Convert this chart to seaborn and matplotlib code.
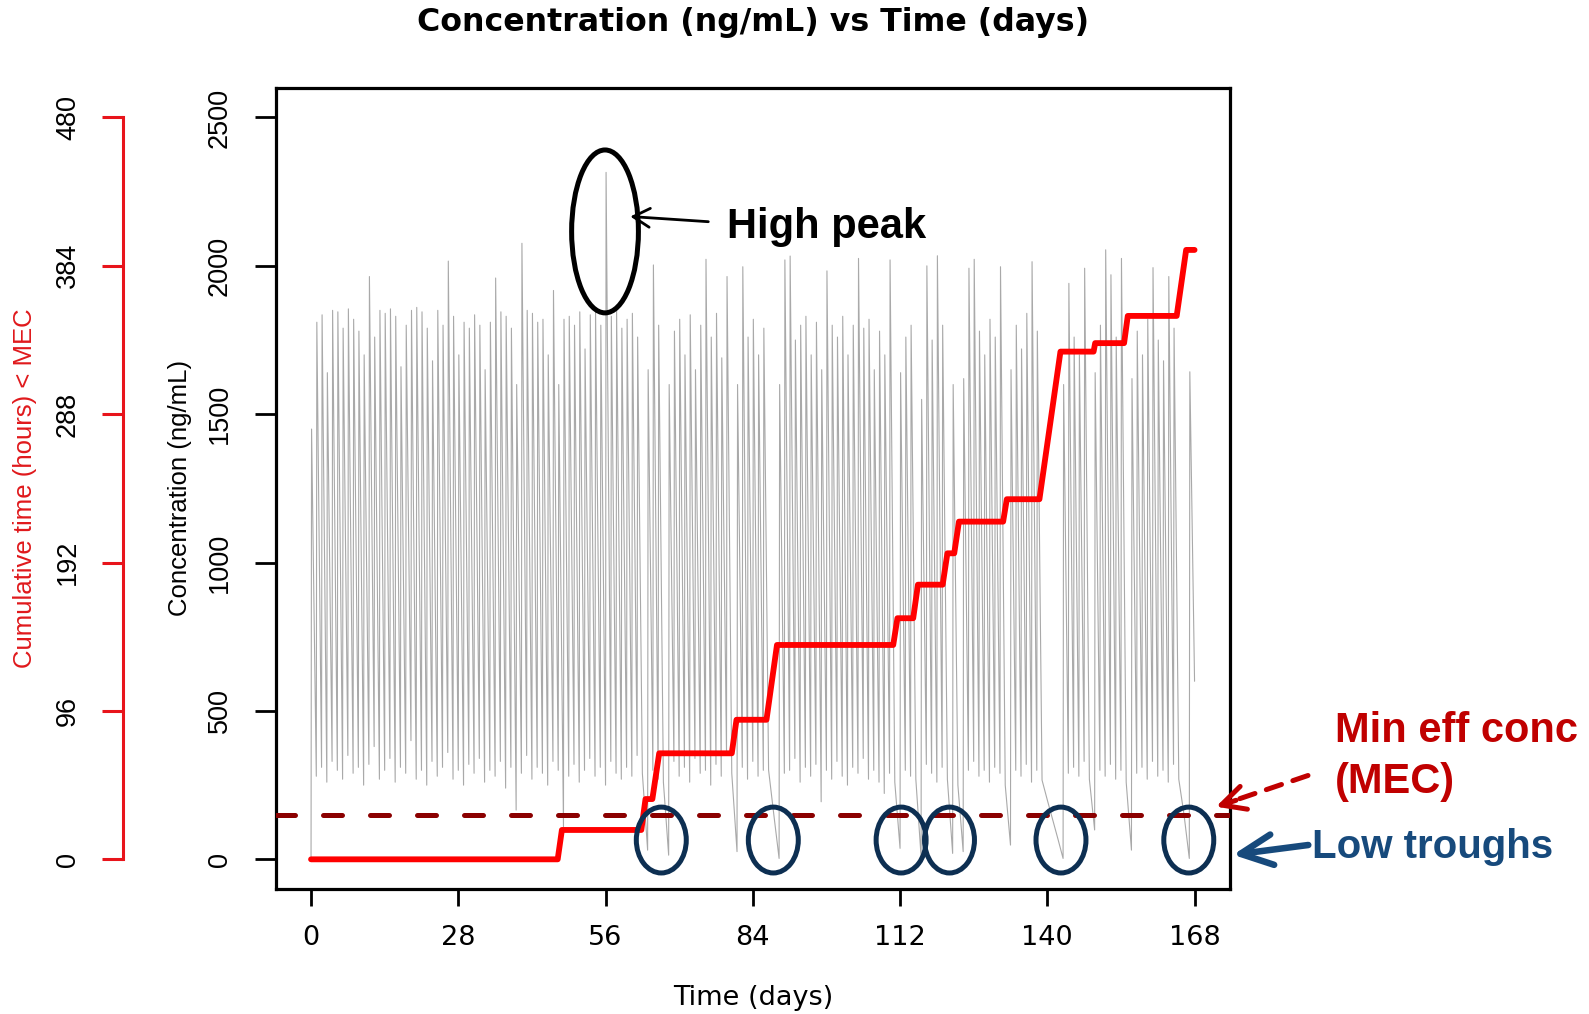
import numpy as np
import pandas as pd
import matplotlib
matplotlib.use("Agg")
import matplotlib.pyplot as plt
import seaborn as sns
from matplotlib.patches import Ellipse

# ---------------- data ----------------
days = list(range(168))  # once-daily dosing grid, days 0..167
# peak concentration after each dose (None = missed dose)
peak_conc = [
    1450, 1810, 1835, 1640, 1850, 1845, 1790, 1855, 1820, 1780,
    1700, 1964, 1760, 1850, 1840, 1855, 1830, 1660, 1800, 1850,
    1860, 1845, 1790, 1680, 1850, 1800, 2016, 1830, 1700, 1810,
    1790, 1835, 1800, 1650, 1810, 1959, 1845, 1830, 1790, 1600,
    2076, 1850, 1840, 1810, 1820, 1700, 1917, 1600, 1820, 1830,
    1800, 1845, 1720, 1835, 1850, 1800, 2315, 1830, 1850, 1790,
    1820, 1840, 1760, None, 1650, 2003, 1800, None, 1600, 1780,
    1820, 1700, 1835, 1650, 1800, 2022, 1760, 1840, 1690, 1964,
    None, 1600, 1997, 1760, 1820, 1700, 1790, None, None, 1600,
    2020, 2033, 1750, 1800, 1830, 1700, 1810, 1650, 1983, 1800,
    1760, 1830, 1700, 1800, 2025, 1790, 1820, 1650, 1780, 1700,
    2020, None, 1640, 1760, 1800, None, 1550, 2000, 1750, 2034,
    1800, None, 1600, None, 1620, 1992, 2022, 1780, 1700, 1820,
    1760, 1997, None, 1650, 1800, 1720, 1840, 2014, 1780, None,
    None, None, None, 1600, 1941, 1760, 1700, 1992, None, 1640,
    1800, 2054, 1970, 1760, 2025, None, 1620, 1780, 1700, 1820,
    1994, 1750, 1680, 1964, 1790, None, None, 1643,
]
# concentration at the end of each day (pre-dose trough of the next day)
trough_conc = [
    280, 310, 260, 330, 300, 270, 350, 290, 310, 250,
    320, 380, 270, 300, 340, 260, 310, 290, 400, 270,
    300, 250, 330, 280, 310, 360, 270, 300, 250, 320,
    290, 340, 260, 300, 280, 330, 240, 310, 166, 290,
    350, 270, 310, 290, 250, 330, 300, 110, 280, 320,
    260, 300, 340, 280, 310, 250, 330, 290, 270, 310,
    280, 350, 290, 31, 300, 270, 260, 14, 330, 280,
    310, 260, 340, 290, 300, 250, 320, 280, 360, 290,
    26, 310, 270, 330, 280, 300, 301, 150, 3, 290,
    300, 340, 260, 310, 280, 320, 194, 300, 270, 330,
    280, 250, 310, 290, 340, 270, 300, 260, 222, 290,
    260, 37, 300, 280, 270, 9, 320, 290, 260, 310,
    270, 20, 250, 26, 300, 330, 280, 300, 260, 310,
    290, 250, 48, 300, 280, 320, 260, 300, 267, 200,
    135, 70, 3, 290, 310, 280, 330, 270, 99, 300,
    280, 320, 270, 300, 260, 31, 290, 310, 270, 330,
    280, 300, 260, 320, 270, 150, 3, 600,
]
mec = 150  # minimum effective concentration (ng/mL)

# cumulative time (hours) below MEC
red_days = [0, 46.9, 47.7, 62.8, 63.6, 64.9, 66.2, 80.0, 80.9, 86.6, 88.6,
            110.7, 111.5, 114.5, 115.4, 120.1, 121.0, 122.3, 123.2, 131.6,
            132.3, 138.5, 142.5, 148.8, 149.1, 154.6, 155.3, 164.6, 166.4, 168]
red_hours = [0, 0, 19, 19, 39, 39, 68.6, 68.6, 90.3, 90.3, 138.7,
             138.7, 156, 156, 177.7, 177.7, 198, 198, 218.5, 218.5,
             233, 233, 328.5, 328.5, 334, 334, 351.6, 351.6, 394.3, 394.3]

conc_ticks = [0, 500, 1000, 1500, 2000, 2500]
hour_ticks = [0, 96, 192, 288, 384, 480]
day_ticks = [0, 28, 56, 84, 112, 140, 168]

high_peak_day, high_peak_conc = 55.9, 2116
trough_marks = [66.6, 87.9, 112.2, 121.4, 142.6, 166.9]

# ---------------- build series ----------------
t, c = [0.0], [0.0]
for d, p, tr in zip(days, peak_conc, trough_conc):
    if p is not None:
        t.append(d + 0.1)
        c.append(p)
    t.append(d + 1.0)
    c.append(tr)
gray_df = pd.DataFrame({"day": t, "conc": c})
red_df = pd.DataFrame({"day": red_days, "hours": red_hours})

# ---------------- figure ----------------
sns.set_theme(style="white")
plt.rcParams["font.family"] = ["DejaVu Sans"]
plt.rcParams["text.color"] = "black"
plt.rcParams["axes.labelcolor"] = "black"
plt.rcParams["xtick.color"] = "black"
plt.rcParams["ytick.color"] = "black"
plt.rcParams["xtick.labelcolor"] = "black"
plt.rcParams["ytick.labelcolor"] = "black"

W, H = 1589, 1014
fig = plt.figure(figsize=(W / 100, H / 100), dpi=100)
L, R, T, B = 275.7, 1229.9, 87.8, 889.0
ax = fig.add_axes([L / W, 1 - B / H, (R - L) / W, (B - T) / H])

sns.lineplot(data=gray_df, x="day", y="conc", ax=ax, color="#a9a9a9",
             linewidth=0.8, estimator=None, sort=False)
ax.axhline(mec, color="#8b0000", lw=3.6, linestyle=(0, (3.8, 5.6)),
           dash_capstyle="round", zorder=3)

ax.set_xlim(-6.72, 174.72)
ax.set_ylim(-100, 2600)
ax.set_xticks(day_ticks)
ax.set_xticklabels([str(v) for v in day_ticks], fontsize=19.5, color="black")
ax.set_yticks(conc_ticks)
ax.set_yticklabels([str(v) for v in conc_ticks], rotation=90, va="center",
                   fontsize=19.5, family="Liberation Sans", color="black")
ax.tick_params(axis="x", length=12.2, width=2, color="black", pad=14.0,
               bottom=True)
ax.tick_params(axis="y", length=14.9, width=2, color="black", pad=15.8,
               left=True)
for s in ax.spines.values():
    s.set_visible(True)
    s.set_color("black")
    s.set_linewidth(2.3)
ax.set_xlabel("Time (days)", fontsize=19.5, color="black")
ax.xaxis.set_label_coords(0.5, -(998 - B) / (B - T))
ax.xaxis.label.set_va("center")
ax.set_ylabel("Concentration (ng/mL)", fontsize=18.5, family="Liberation Sans",
              color="black")
ax.yaxis.set_label_coords((180.4 - L) / (R - L), 0.5)
ax.yaxis.label.set_va("center")

# secondary (cumulative hours) axis on the far left
ax2 = ax.twinx()
sns.lineplot(data=red_df, x="day", y="hours", ax=ax2, color="#ff0000",
             linewidth=4.2, estimator=None, sort=False,
             solid_capstyle="round", solid_joinstyle="round")
ax2.set_ylim(-100 * 480 / 2500, 2600 * 480 / 2500)
ax2.yaxis.tick_left()
ax2.yaxis.set_label_position("left")
for k in ["right", "top", "bottom"]:
    ax2.spines[k].set_visible(False)
sp = ax2.spines["left"]
sp.set_visible(True)
sp.set_position(("axes", (122.6 - L) / (R - L)))
sp.set_bounds(0, 480)
sp.set_color("#e8141b")
sp.set_linewidth(2.2)
ax2.set_yticks(hour_ticks)
ax2.set_yticklabels([str(v) for v in hour_ticks], rotation=90, va="center",
                    fontsize=19.5, family="Liberation Sans", color="black")
ax2.tick_params(axis="y", length=15.3, width=2.2, color="#e8141b", pad=14.6)
ax2.set_ylabel("Cumulative time (hours) < MEC", fontsize=18.5,
               family="Liberation Sans", color="#e0191c")
ax2.yaxis.set_label_coords((25.3 - L) / (R - L), 0.5)
ax2.yaxis.label.set_va("center")
ax2.set_xlabel("")

# ellipses (data coordinates of the concentration axis)
ax2.add_patch(Ellipse((high_peak_day, high_peak_conc), 12.7, 549,
                      transform=ax.transData, fill=False, ec="black",
                      lw=3.6, clip_on=False, zorder=6))
for dx in trough_marks:
    ax2.add_patch(Ellipse((dx, 65), 9.5, 222, transform=ax.transData,
                          fill=False, ec="#0d2f52", lw=3.6, clip_on=False,
                          zorder=6))


def fp(x, y):
    return (x, H - y)


# title
fig.text((L + R) / 2 / W, 1 - 22.3 / H, "Concentration (ng/mL) vs Time (days)",
         ha="center", va="center", fontsize=22.8, fontweight="bold",
         color="black")

# annotations
ann_font = "Liberation Sans"
fig.text(727 / W, 1 - 238.3 / H, "High peak", fontsize=30, fontweight="bold",
         family=ann_font, va="baseline", ha="left", color="black")
ax2.annotate("", xy=fp(630.3, 216.5), xytext=fp(708.3, 221.7),
             xycoords="figure pixels", textcoords="figure pixels",
             arrowprops=dict(arrowstyle="->,head_length=0.6,head_width=0.34",
                             lw=2, color="black", mutation_scale=20,
                             shrinkA=0, shrinkB=0))

fig.text(1335 / W, 1 - 741.7 / H, "Min eff conc", fontsize=30,
         fontweight="bold", family=ann_font, color="#c00000",
         va="baseline", ha="left")
fig.text(1335 / W, 1 - 793 / H, "(MEC)", fontsize=30, fontweight="bold",
         family=ann_font, color="#c00000", va="baseline", ha="left")
ax2.annotate("", xy=fp(1222, 804.7), xytext=fp(1308, 775.5),
             xycoords="figure pixels", textcoords="figure pixels",
             arrowprops=dict(arrowstyle="-", lw=3.6, color="#c00000",
                             linestyle=(0, (3.2, 2.4)), shrinkA=0, shrinkB=0))
ax2.annotate("", xy=fp(1216, 806.7), xytext=fp(1236, 800.3),
             xycoords="figure pixels", textcoords="figure pixels",
             arrowprops=dict(arrowstyle="->,head_length=0.85,head_width=0.43",
                             lw=3.6, color="#c00000", mutation_scale=20,
                             shrinkA=0, shrinkB=0))

fig.text(1312 / W, 1 - 858.3 / H, "Low troughs", fontsize=29,
         fontweight="bold", family=ann_font, color="#174a7c",
         va="baseline", ha="left")
ax2.annotate("", xy=fp(1233, 854.8), xytext=fp(1308.3, 845),
             xycoords="figure pixels", textcoords="figure pixels",
             arrowprops=dict(arrowstyle="->,head_length=1.15,head_width=0.55",
                             lw=4.7, color="#174a7c", mutation_scale=20,
                             shrinkA=0, shrinkB=0))

fig.savefig("out.png", dpi=100)
